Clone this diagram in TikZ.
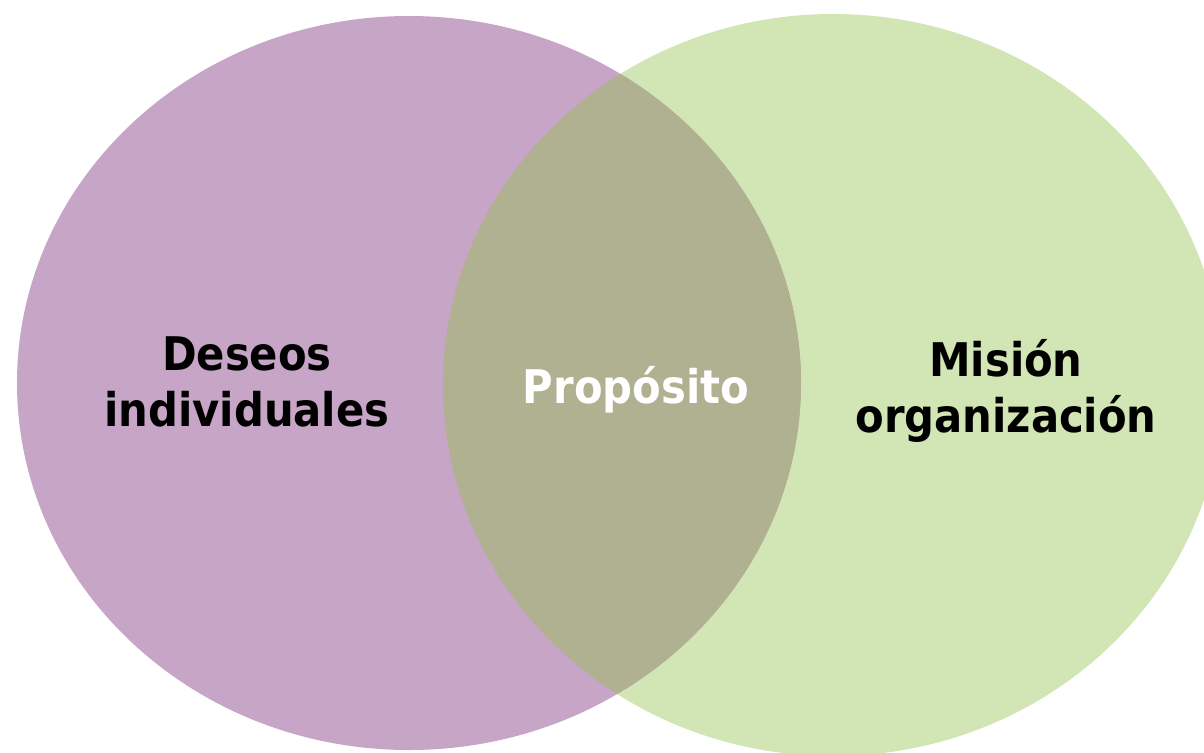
\documentclass[tikz,border=0pt]{standalone}
\usepackage{fontspec}
\setmainfont{DejaVu Sans Condensed}
\usetikzlibrary{positioning}
\definecolor{deseoscol}{RGB}{199,165,198}
\definecolor{misioncol}{RGB}{209,230,180}
\definecolor{propcol}{RGB}{175,177,144}
\tikzset{
 lbl/.style={font=\bfseries\fontsize{26.4}{32.3}\selectfont, align=center, inner sep=0},
}

\begin{document}
\begin{tikzpicture}[x=0.02cm, y=-0.02cm]
\useasboundingbox (0,0) rectangle (1204,752);
\coordinate (P) at (409,383);
\coordinate (G) at (833,385);
\fill[misioncol] (G) ellipse [x radius=390, y radius=371];
\fill[deseoscol] (P) ellipse [x radius=392, y radius=367];
\begin{scope}
 \clip (P) ellipse [x radius=392, y radius=367];
 \fill[propcol] (G) ellipse [x radius=390, y radius=371];
\end{scope}
\node[lbl] (deseos) at (247,382) {Deseos\\individuales};
\node[lbl, white] (proposito) at (636,390) {Propósito};
\node[lbl] (mision) at (1006,391) {Misión\\organización};
\end{tikzpicture}
\end{document}
